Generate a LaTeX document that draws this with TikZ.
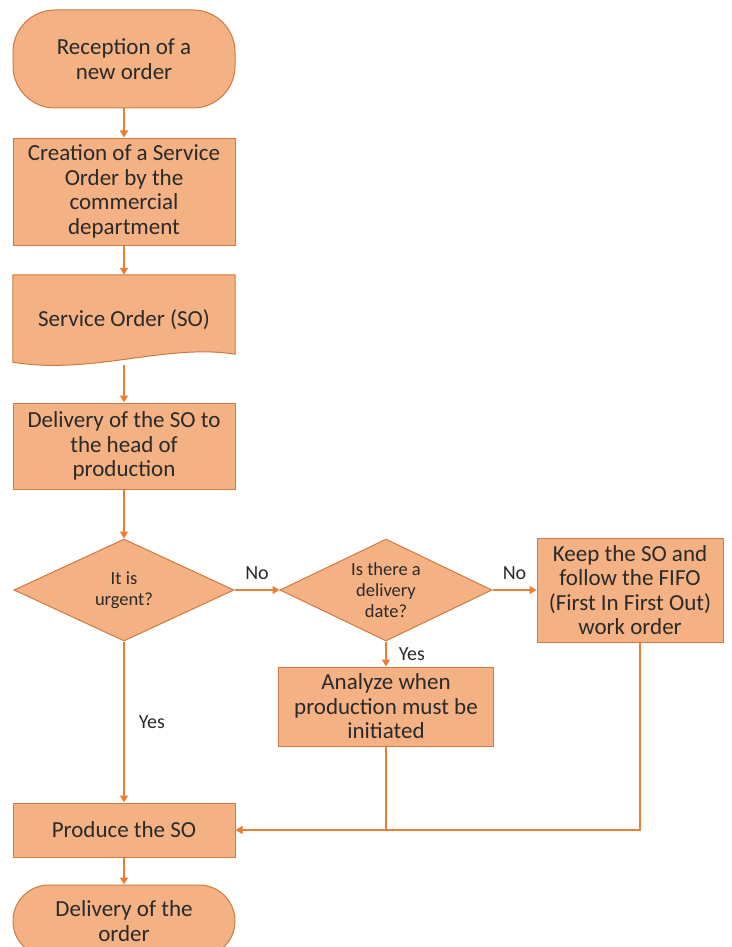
\documentclass[tikz,border=0pt]{standalone}
\usepackage{fontspec}
\setmainfont{Carlito}
\usetikzlibrary{shapes,arrows.meta,positioning,calc,backgrounds}
\definecolor{boxfill}{HTML}{F4B183}
\definecolor{boxline}{HTML}{CF7A40}
\definecolor{flowline}{HTML}{ED7D31}
\definecolor{textgrey}{HTML}{2A2A2A}

\begin{document}
\begin{tikzpicture}[x=1pt,y=-1pt,
    every node/.style={font=\fontsize{23}{24.5}\selectfont,text=textgrey,align=center,inner sep=0pt},
    block/.style={rectangle,draw=boxline,fill=boxfill,line width=1pt},
    term/.style={block,rounded corners=42pt},
    decision/.style={diamond,aspect=2.1,draw=boxline,fill=boxfill,line width=1pt,font=\fontsize{18.5}{21}\selectfont},
    flow/.style={draw=flowline,line width=1.5pt,-{Triangle[width=8pt,length=7pt]}},
    lbl/.style={font=\fontsize{20}{22}\selectfont}]
    \clip (0,0) rectangle (731,947);

    % main column
    \node[term,minimum width=222pt,minimum height=98pt] (start) at (124,59) {Reception of a\\new order};
    \node[block,minimum width=222pt,minimum height=107pt] (create) at (124,191.5) {Creation of a Service\\Order by the\\commercial\\department};
    \node[minimum width=222pt,minimum height=90pt] (so) at (124,320) {Service Order (SO)};
    \node[block,minimum width=222pt,minimum height=86pt] (handover) at (124,446) {Delivery of the SO to\\the head of\\production};

    % document shape behind the SO text
    \begin{scope}[on background layer]
        \draw[draw=boxline,fill=boxfill,line width=1pt] (so.north west) -- (so.north east)
            -- ($(so.south east)+(0,-11)$)
            .. controls ($(so.south east)+(-70,-22)$) and ($(so.south west)+(80,10)$) .. ($(so.south west)+(0,-3)$)
            -- cycle;
    \end{scope}

    % decisions
    \node[decision,minimum width=220pt,minimum height=102pt] (urgent) at (124,590) {It is\\urgent?};
    \node[decision,minimum width=212pt,minimum height=102pt] (duedate) at (386,590) {Is there a\\delivery\\date?};
    \node[block,minimum width=186pt,minimum height=104pt] (fifo) at (630,590) {Keep the SO and\\follow the FIFO\\(First In First Out)\\work order};
    \node[block,minimum width=215pt,minimum height=79pt] (analyze) at (386,706.5) {Analyze when\\production must be\\initiated};

    % end of the flow
    \node[block,minimum width=222pt,minimum height=54pt] (produce) at (124,830) {Produce the SO};
    \node[term,rounded corners=36pt,minimum width=222pt,minimum height=72pt] (finish) at (124,921) {Delivery of the\\order};

    % connectors
    \draw[flow] (start) -- (create);
    \draw[flow] (create) -- (so);
    \draw[flow] (so) -- (handover);
    \draw[flow] (handover) -- (urgent);
    \draw[flow] (urgent) -- node[lbl,above=10pt] {No} (duedate);
    \draw[flow] (duedate) -- node[lbl,above=10pt] {No} (fifo);
    \draw[flow] (duedate) -- node[lbl,right=12pt] {Yes} (analyze);
    \draw[flow] (urgent) -- node[lbl,right=14pt] {Yes} (produce);
    \draw[flow] ([xshift=10pt]fifo.south) |- (produce.east);
    \draw[draw=flowline,line width=1.5pt] (analyze.south) -- (analyze.south |- produce.east);
    \draw[flow] (produce) -- (finish);
\end{tikzpicture}
\end{document}
